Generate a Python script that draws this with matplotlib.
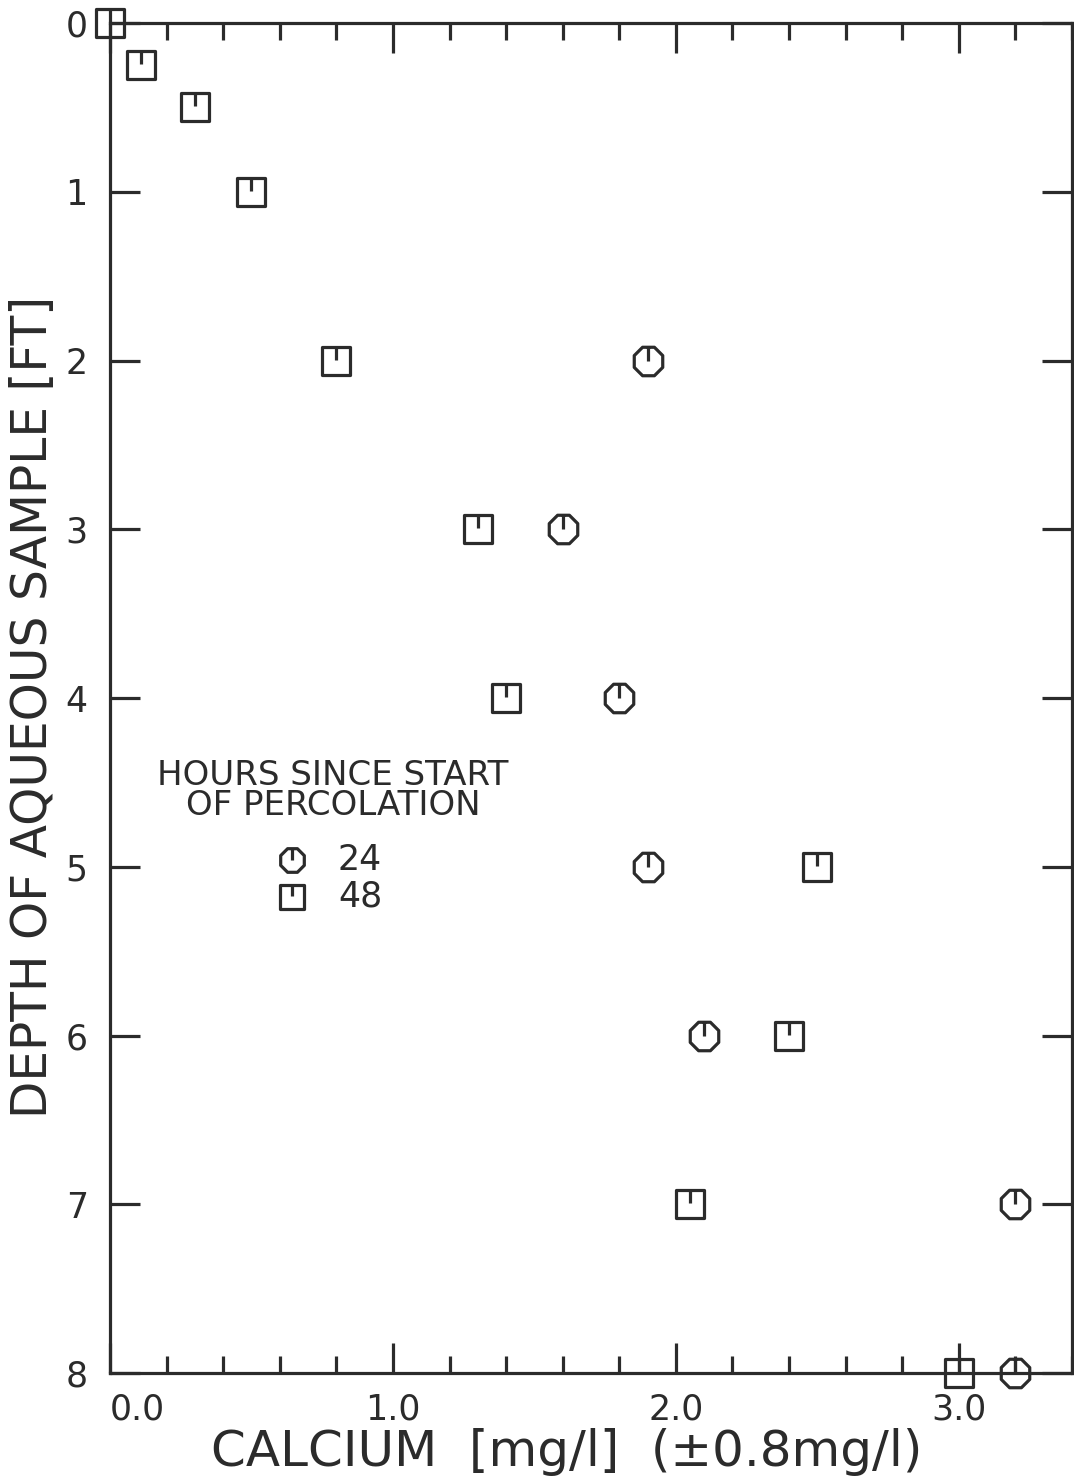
import matplotlib
matplotlib.use("Agg")
import matplotlib.pyplot as plt
from matplotlib.path import Path
from matplotlib.ticker import FixedLocator, MultipleLocator
import numpy as np

# 24 hours since start of percolation (octagon markers)
calcium_24 = [1.90, 1.60, 1.80, 1.90, 2.10, 3.20, 3.20]
depth_24 = [2, 3, 4, 5, 6, 7, 8]

# 48 hours since start of percolation (square markers)
calcium_48 = [0.00, 0.11, 0.30, 0.50, 0.80, 1.30, 1.40, 2.50, 2.40, 2.05, 3.00]
depth_48 = [0.0, 0.25, 0.5, 1, 2, 3, 4, 5, 6, 7, 8]

x_ticks = [0.0, 1.0, 2.0, 3.0]
x_tick_labels = ["0.0", "1.0", "2.0", "3.0"]
y_ticks = [0, 1, 2, 3, 4, 5, 6, 7, 8]
legend_title = "HOURS SINCE START\nOF PERCOLATION"
legend_hours = ["24", "48"]

INK = "#2b2b2b"
plt.rcParams["font.family"] = ["DejaVu Sans"]


def square_marker():
    # plotter style square with a little stroke hanging from the top
    verts = [(-1, -1), (1, -1), (1, 1), (-1, 1), (-1, -1), (0, 1), (0, 0.05)]
    codes = [Path.MOVETO, Path.LINETO, Path.LINETO, Path.LINETO,
             Path.CLOSEPOLY, Path.MOVETO, Path.LINETO]
    return Path(verts, codes)


def octagon_marker():
    ang = np.radians(22.5 + 45 * np.arange(8))
    r = 1 / np.cos(np.radians(22.5))
    ring = list(zip(r * np.cos(ang), r * np.sin(ang)))
    verts = ring + [ring[0], (0, 1), (0, 0)]
    codes = [Path.MOVETO] + [Path.LINETO] * 7 + [Path.CLOSEPOLY, Path.MOVETO, Path.LINETO]
    return Path(verts, codes)


SQ = square_marker()
OCT = octagon_marker()
mstyle = dict(linestyle="none", markerfacecolor="none", markeredgecolor=INK,
              markeredgewidth=2.3, clip_on=False, zorder=5)

fig = plt.figure(figsize=(10.74, 14.83), dpi=100)
ax = fig.add_axes([110 / 1074, 110 / 1483, 962 / 1074, 1350 / 1483])

ax.plot(calcium_48, depth_48, marker=SQ, markersize=20, **mstyle)
ax.plot(calcium_24, depth_24, marker=OCT, markersize=20.5, **mstyle)

ax.set_xlim(0, 3.4)
ax.set_ylim(8, 0)

for s in ax.spines.values():
    s.set_linewidth(2.3)
    s.set_color(INK)

ax.xaxis.set_major_locator(FixedLocator(x_ticks))
ax.set_xticklabels(x_tick_labels)
ax.xaxis.set_minor_locator(MultipleLocator(0.2))
ax.yaxis.set_major_locator(FixedLocator(y_ticks))
ax.set_yticklabels([str(v) for v in y_ticks])

ax.tick_params(axis="x", which="major", direction="in", top=True, bottom=True,
               length=21.5, width=2.3, color=INK, labelsize=25, pad=14, labelcolor=INK)
ax.tick_params(axis="x", which="minor", direction="in", top=True, bottom=True,
               length=12, width=2.3, color=INK)
ax.tick_params(axis="y", which="major", direction="in", left=True, right=True,
               length=21.5, width=2.3, color=INK, labelsize=25, pad=16, labelcolor=INK)
ax.xaxis.get_majorticklabels()[0].set_horizontalalignment("left")

# hand placed legend block
ax.text(0.232, 0.455, legend_title, transform=ax.transAxes, ha="center", va="top",
        multialignment="center", fontsize=24.5, color=INK, linespacing=0.9)
leg_markers = [OCT, SQ]
leg_y = [0.380, 0.3526]
for mk, yy, lab in zip(leg_markers, leg_y, legend_hours):
    ax.plot([0.189], [yy], transform=ax.transAxes, marker=mk, markersize=17, **mstyle)
    ax.text(0.237, yy, lab, transform=ax.transAxes, ha="left", va="center",
            fontsize=25, color=INK)

fig.text(567 / 1074, 1 - 1466 / 1483, "CALCIUM  [mg/l]  (\u00b10.8mg/l)",
         ha="center", va="baseline", fontsize=36, color=INK)
fig.text(33 / 1074, 1 - 707 / 1483, "DEPTH OF AQUEOUS SAMPLE [FT]", rotation=90,
         ha="center", va="center", fontsize=35, color=INK)

fig.savefig("out.png", dpi=100, facecolor="white")
